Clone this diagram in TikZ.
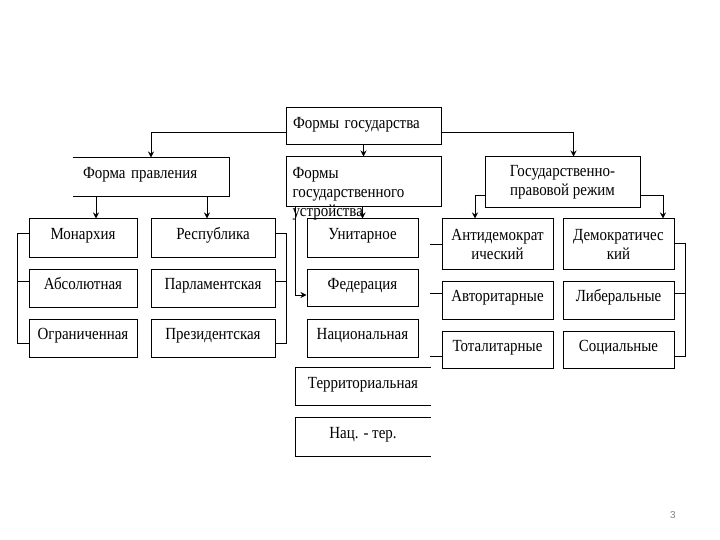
\documentclass[tikz,border=0pt]{standalone}
\usepackage{fontspec}
\setmainfont{Liberation Serif}[FakeStretch=0.88]
\setsansfont{Liberation Sans}
\usetikzlibrary{arrows.meta}
\begin{document}
\begin{tikzpicture}[x=1pt,y=-1pt,
  every node/.style={font=\fontsize{17}{19}\selectfont},
  base/.style={rectangle, inner sep=0pt, line width=1pt},
  box/.style={base, draw, align=center},
  one/.style={box, text height=11.5pt, text depth=8pt},
  edge/.style={line width=1pt},
  conn/.style={line width=1pt},
  arr/.style={conn, -{Stealth[length=6pt,width=6pt,inset=2pt]}},
]
\useasboundingbox (0,0) rectangle (720,540);

% top level
\node[base, draw, align=left, text width=141pt, inner xsep=7pt, minimum height=37pt, text height=11.5pt, text depth=8pt] (top) at (363.5,126.5) {Формы государства};

% second level
\node[base, align=left, text width=136pt, inner xsep=10pt, minimum height=38pt, text height=11.5pt, text depth=8pt] (fp) at (151,177) {Форма правления};
\draw[edge] (fp.north west) -- (fp.north east) -- (fp.south east) -- (fp.south west);

\node[box, minimum width=155pt, minimum height=50pt] (fgu) at (363.5,182) {};
\node[base, align=left, anchor=north west] (fgut) at (292,166.5) {Формы\\государственного\\устройства};

\node[box, minimum width=155pt, minimum height=51pt] (gpr) at (562.5,182.5) {Государственно-\\правовой режим};

% left group
\node[one, minimum width=108pt, minimum height=38pt] (mon) at (83,238) {Монархия};
\node[one, minimum width=108pt, minimum height=38pt] (abs) at (83,288) {Абсолютная};
\node[one, minimum width=108pt, minimum height=38pt] (ogr) at (83,338) {Ограниченная};
\node[one, minimum width=124pt, minimum height=38pt] (resp) at (213,238) {Республика};
\node[one, minimum width=124pt, minimum height=38pt] (parl) at (213,288) {Парламентская};
\node[one, minimum width=124pt, minimum height=38pt] (pres) at (213,338) {Президентская};

% middle group
\node[one, minimum width=111pt, minimum height=38pt] (uni) at (362.5,238) {Унитарное};
\node[one, minimum width=111pt, minimum height=37pt] (fed) at (362.5,287.5) {Федерация};
\node[one, minimum width=111pt, minimum height=38pt] (nat) at (362.5,338) {Национальная};
\node[base, minimum width=134pt, minimum height=37pt, text height=11.5pt, text depth=8pt] (ter) at (363,386.5) {Территориальная};
\draw[edge] (ter.north east) -- (ter.north west) -- (ter.south west) -- (ter.south east);
\node[base, minimum width=134pt, minimum height=38pt, text height=11.5pt, text depth=8pt] (nt) at (363,437) {Нац. - тер.};
\draw[edge] (nt.north east) -- (nt.north west) -- (nt.south west) -- (nt.south east);

% right group
\node[box, minimum width=111pt, minimum height=50pt] (ad) at (497.5,244) {Антидемократ\\ический};
\node[box, minimum width=111pt, minimum height=50pt] (dem) at (618.5,244) {Демократичес\\кий};
\node[one, minimum width=111pt, minimum height=38pt] (avt) at (497.5,300) {Авторитарные};
\node[one, minimum width=111pt, minimum height=38pt] (lib) at (618.5,300) {Либеральные};
\node[one, minimum width=111pt, minimum height=37pt] (tot) at (497.5,349.5) {Тоталитарные};
\node[one, minimum width=111pt, minimum height=37pt] (soc) at (618.5,349.5) {Социальные};

% page number
\node[font=\sffamily\fontsize{10}{11}\selectfont, text=gray] (pg) at (673,515) {3};

% connectors from top
\draw[arr] ([yshift=-6.5pt]top.west) -| (fp.north);
\draw[arr] ([yshift=-6.5pt]top.east) -| ([xshift=11pt]gpr.north);
\draw[arr] (top.south) -- (top.south |- fgu.north);

% form of government
\draw[arr] ([xshift=-55pt]fp.south) coordinate (a1) -- (a1 |- mon.north);
\draw[arr] ([xshift=56pt]fp.south) coordinate (a2) -- (a2 |- resp.north);
\draw[conn] ([yshift=5pt]mon.west) -- ++(-11pt,0) coordinate (b1) |- ([yshift=-5pt]ogr.west);
\draw[conn] ([yshift=7pt]abs.west) coordinate (c1) -- (c1 -| b1);
\draw[conn] ([yshift=5pt]resp.east) -- ++(11pt,0) coordinate (b2) |- ([yshift=-5pt]pres.east);
\draw[conn] ([yshift=7pt]parl.east) coordinate (c2) -- (c2 -| b2);

% state structure
\draw[arr] (fgu.south -| uni.north) -- (uni.north);
\draw[arr] ([xshift=10pt]fgu.south west) |- ([yshift=-7.5pt]fed.west);

% regime
\draw[arr] ([yshift=-13pt]gpr.west) -| ([xshift=-22.5pt]ad.north);
\draw[arr] ([yshift=-13pt]gpr.east) -| ([xshift=44.5pt]dem.north);
\draw[conn] (ad.west) -- ++(-12pt,0);
\draw[conn] ([yshift=7pt]avt.west) -- ++(-12pt,0);
\draw[conn] ([yshift=-6.5pt]tot.west) -- ++(-12pt,0);
\draw[conn] ([yshift=1pt]dem.east) -- ++(11pt,0) coordinate (b3) |- ([yshift=-6.5pt]soc.east);
\draw[conn] ([yshift=7pt]lib.east) coordinate (c3) -- (c3 -| b3);
\end{tikzpicture}
\end{document}
